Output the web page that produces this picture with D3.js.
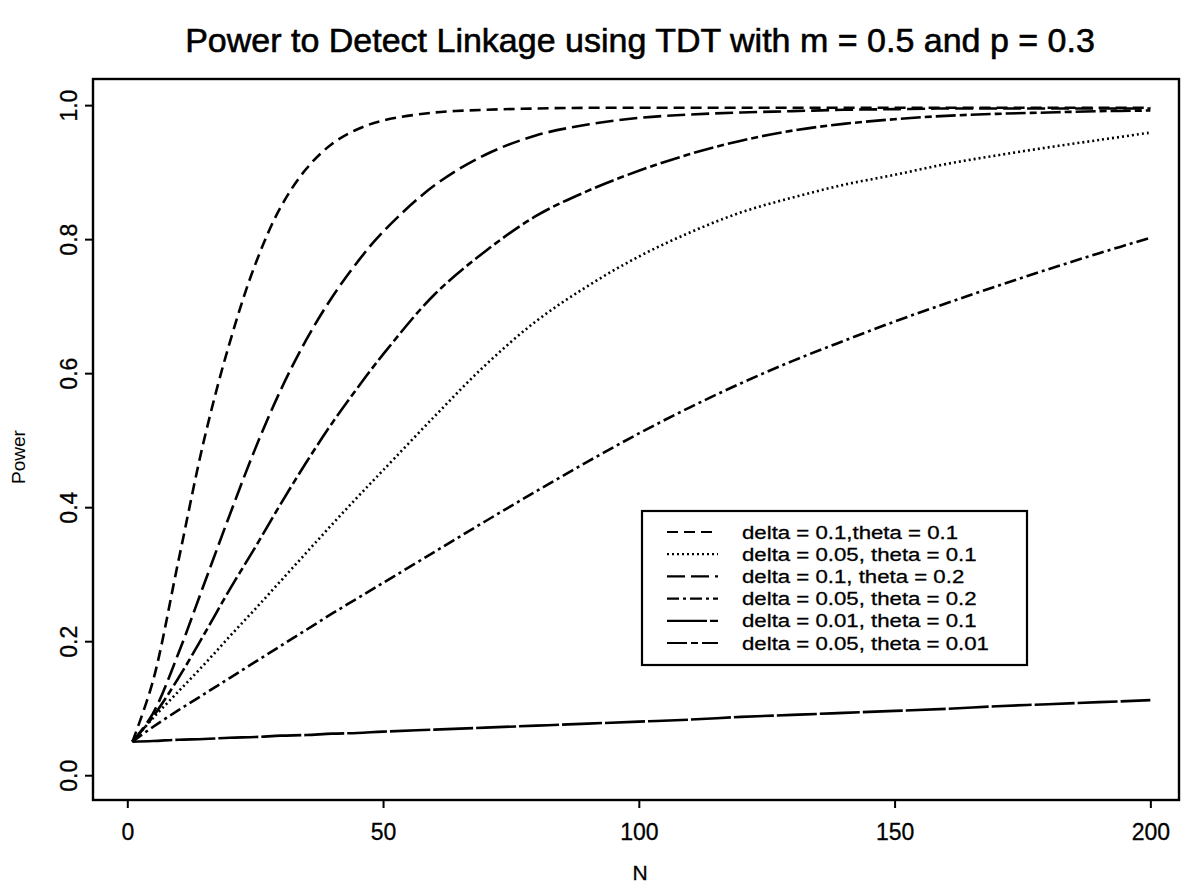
<!DOCTYPE html>
<html>
<head>
<meta charset="utf-8">
<script src="https://cdn.jsdelivr.net/npm/d3@7"></script>
<style>
  body { margin: 0; background: #fff; }
  text { font-family: "Liberation Sans", Arial, Helvetica, sans-serif; fill: #000; }
</style>
</head>
<body>
<div id="chart"></div>
<script>
// Data
var nValues = [1, 5, 10, 15, 20, 25, 30, 35, 40, 45, 50, 60, 70, 80, 90, 100, 110, 120, 130, 140, 150, 160, 170, 180, 190, 200];

var powerD10T10 = [0.050, 0.140, 0.320, 0.500, 0.645, 0.762, 0.848, 0.905, 0.942, 0.964, 0.977, 0.989, 0.993, 0.995, 0.996, 0.996, 0.996, 0.996, 0.996, 0.996, 0.996, 0.996, 0.996, 0.996, 0.996, 0.996];
var powerD05T10 = [0.050, 0.085, 0.125, 0.165, 0.207, 0.248, 0.290, 0.332, 0.374, 0.415, 0.455, 0.535, 0.612, 0.678, 0.730, 0.774, 0.810, 0.840, 0.862, 0.881, 0.896, 0.912, 0.925, 0.937, 0.948, 0.959];
var powerD10T20 = [0.050, 0.092, 0.182, 0.285, 0.388, 0.487, 0.575, 0.650, 0.713, 0.766, 0.811, 0.880, 0.926, 0.955, 0.971, 0.981, 0.986, 0.989, 0.991, 0.993, 0.994, 0.995, 0.995, 0.995, 0.995, 0.995];
var powerD05T20 = [0.050, 0.072, 0.097, 0.121, 0.145, 0.169, 0.193, 0.217, 0.241, 0.264, 0.287, 0.333, 0.379, 0.424, 0.468, 0.510, 0.549, 0.585, 0.618, 0.648, 0.677, 0.704, 0.730, 0.755, 0.779, 0.802];
var powerD01T10 = [0.050, 0.051, 0.053, 0.054, 0.056, 0.057, 0.059, 0.060, 0.062, 0.063, 0.065, 0.068, 0.071, 0.074, 0.077, 0.080, 0.083, 0.087, 0.090, 0.093, 0.096, 0.099, 0.103, 0.106, 0.109, 0.112];
var powerD05T01 = [0.050, 0.087, 0.145, 0.210, 0.277, 0.340, 0.405, 0.467, 0.525, 0.578, 0.628, 0.717, 0.782, 0.835, 0.872, 0.902, 0.927, 0.947, 0.962, 0.972, 0.979, 0.984, 0.987, 0.989, 0.991, 0.992];

var seriesLabels = ["delta = 0.1,theta = 0.1", "delta = 0.05, theta = 0.1", "delta = 0.1, theta = 0.2",
                    "delta = 0.05, theta = 0.2", "delta = 0.01, theta = 0.1", "delta = 0.05, theta = 0.01"];
var seriesValues = [powerD10T10, powerD05T10, powerD10T20, powerD05T20, powerD01T10, powerD05T01];
var dashes = ["11,6", "2,3", "18,6", "12,4,3,4", "40,3", "20,4,7,4"];

var xTicks = [0, 50, 100, 150, 200];
var yTicks = [0.0, 0.2, 0.4, 0.6, 0.8, 1.0];

var svgWidth = 1186;
var svgHeight = 885;
var box = { left: 93, right: 1179, top: 79, bottom: 800 };

var svg = d3.select("#chart")
  .append("svg")
  .attr("width", svgWidth)
  .attr("height", svgHeight);

// Scales (R-style padded domain)
var xScale = d3.scaleLinear()
  .domain([-6.9, 205.6])
  .range([box.left - 1, box.right]);

var yScale = d3.scaleLinear()
  .domain([-0.037, 1.039])
  .range([box.bottom, box.top]);

// Axes
var bottomAxis = d3.axisBottom(xScale)
  .tickValues(xTicks)
  .tickSize(8)
  .tickPadding(16)
  .tickFormat(d3.format("d"));

var leftAxis = d3.axisLeft(yScale)
  .tickValues(yTicks)
  .tickSize(8)
  .tickFormat(d3.format(".1f"));

var gx = svg.append("g")
  .attr("transform", `translate(0, ${box.bottom})`)
  .call(bottomAxis);
gx.select(".domain").remove();
gx.selectAll("line").attr("stroke", "#000").attr("stroke-width", 2);
gx.selectAll("text")
  .attr("font-size", 23)
  .attr("font-family", "Liberation Sans, Arial, sans-serif")
  .attr("stroke", "#000")
  .attr("stroke-width", 0.3);

var gy = svg.append("g")
  .attr("transform", `translate(${box.left}, 0)`)
  .call(leftAxis);
gy.select(".domain").remove();
gy.selectAll("line").attr("stroke", "#000").attr("stroke-width", 2);
gy.selectAll("text")
  .attr("font-size", 23)
  .attr("font-family", "Liberation Sans, Arial, sans-serif")
  .attr("stroke", "#000")
  .attr("stroke-width", 0.3)
  .attr("x", null)
  .attr("dy", null)
  .attr("text-anchor", "middle")
  .attr("transform", "translate(-16, 0) rotate(-90)");

// Plot box
svg.append("rect")
  .attr("x", box.left)
  .attr("y", box.top)
  .attr("width", box.right - box.left)
  .attr("height", box.bottom - box.top)
  .attr("fill", "none")
  .attr("stroke", "#000")
  .attr("stroke-width", 2.4);

// Curves
var line = d3.line()
  .x((d, i) => xScale(nValues[i]))
  .y(d => yScale(d))
  .curve(d3.curveCatmullRom.alpha(0.5));

svg.selectAll(".curve")
  .data(seriesValues)
  .enter()
  .append("path")
  .attr("class", "curve")
  .attr("d", d => line(d))
  .attr("fill", "none")
  .attr("stroke", "#000")
  .attr("stroke-width", 2.6)
  .attr("stroke-dasharray", (d, i) => dashes[i]);

// Title and axis labels
svg.append("text")
  .attr("x", 640)
  .attr("y", 52)
  .attr("text-anchor", "middle")
  .attr("font-size", 34)
  .attr("stroke", "#000")
  .attr("stroke-width", 0.6)
  .text("Power to Detect Linkage using TDT with m = 0.5 and p = 0.3");

svg.append("text")
  .attr("x", 640)
  .attr("y", 880)
  .attr("text-anchor", "middle")
  .attr("font-size", 21)
  .attr("stroke", "#000")
  .attr("stroke-width", 0.3)
  .text("N");

svg.append("text")
  .attr("transform", "translate(25, 457) rotate(-90)")
  .attr("text-anchor", "middle")
  .attr("font-size", 19)
  .text("Power");

// Legend
var legend = svg.append("g");
legend.append("rect")
  .attr("x", 642)
  .attr("y", 511)
  .attr("width", 385)
  .attr("height", 154)
  .attr("fill", "#fff")
  .attr("stroke", "#000")
  .attr("stroke-width", 2.2);

var rows = legend.selectAll(".row")
  .data(seriesLabels)
  .enter()
  .append("g")
  .attr("transform", (d, i) => `translate(0, ${532 + i * 22.2})`);

rows.append("line")
  .attr("x1", 667)
  .attr("x2", 718)
  .attr("stroke", "#000")
  .attr("stroke-width", 2.2)
  .attr("stroke-dasharray", (d, i) => dashes[i]);

rows.append("text")
  .attr("transform", "translate(742, 0) scale(1.17, 1)")
  .attr("dy", "0.35em")
  .attr("font-size", 19)
  .attr("stroke", "#000")
  .attr("stroke-width", 0.3)
  .text(d => d);
</script>
</body>
</html>
